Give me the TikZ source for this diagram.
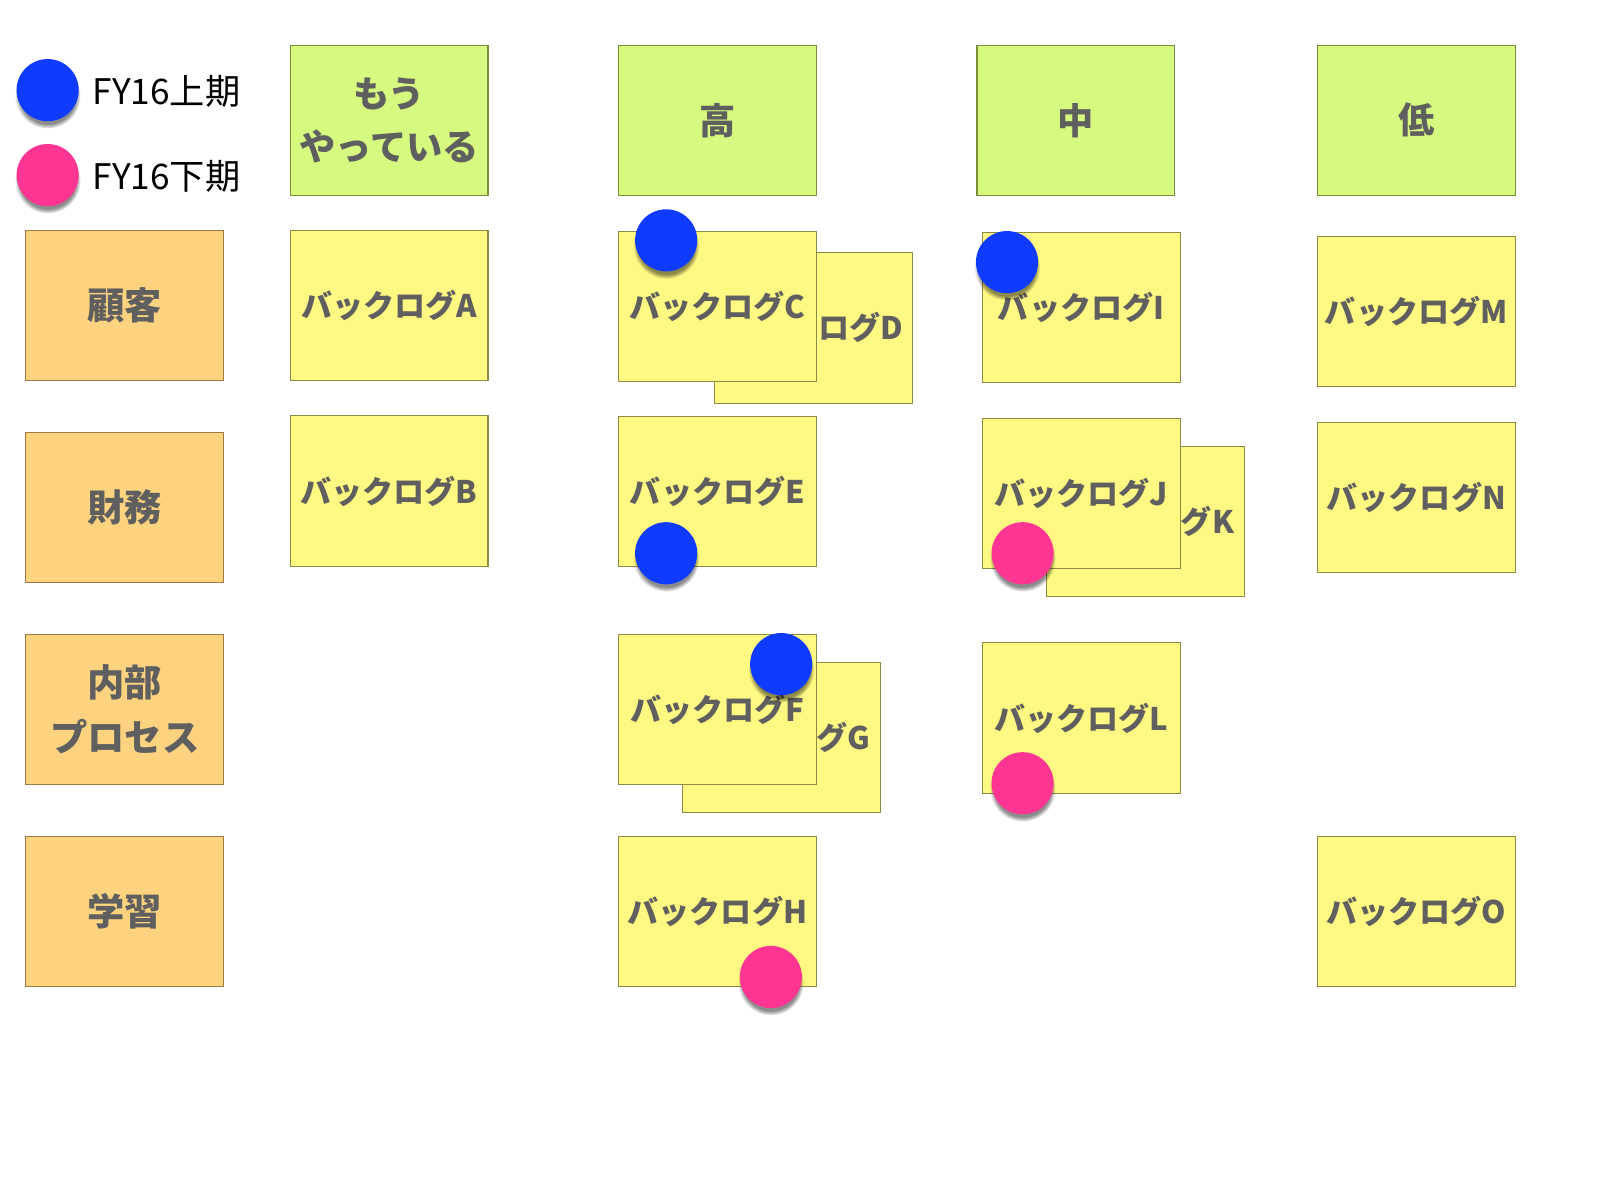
\documentclass[tikz,border=0pt]{standalone}
\usepackage{fontspec}
\setmainfont{Noto Sans CJK JP}
\usepackage{tikz}
\usetikzlibrary{shadows}
\usepackage{xcolor}

\definecolor{headgreen}{HTML}{D6F97F}
\definecolor{headline}{HTML}{7A8F3A}
\definecolor{sideorange}{HTML}{FDD380}
\definecolor{sideline}{HTML}{9A7A45}
\definecolor{cardyellow}{HTML}{FFF882}
\definecolor{cardline}{HTML}{8C8A45}
\definecolor{labelgray}{HTML}{5F5F5F}
\definecolor{firsthalf}{HTML}{0F3BFF}
\definecolor{secondhalf}{HTML}{FF3594}

\begin{document}
\begin{tikzpicture} [x=0.5pt, y=-0.5pt,
	card/.style={rectangle, draw=cardline, line width=0.5pt, fill=cardyellow, minimum width=95.5pt, minimum height=72.5pt, inner sep=0pt, text=labelgray, font=\bfseries\fontsize{15}{18}\selectfont},
	head/.style={card, draw=headline, fill=headgreen, align=center, font=\bfseries\fontsize{17.5}{25.5}\selectfont},
	side/.style={card, draw=sideline, fill=sideorange, align=center, font=\bfseries\fontsize{18}{26.5}\selectfont},
	dot/.style={circle, inner sep=0pt, minimum size=30pt, circular drop shadow={shadow xshift=0pt, shadow yshift=-2.5pt, shadow scale=1.06, fill=black, opacity=0.45}},
	key/.style={anchor=west, inner sep=0pt, font=\fontsize{17}{17}\selectfont}]
										\useasboundingbox (0, 0) rectangle (1567.5, 1141);
										% legend
										\node [dot, fill=firsthalf] (keyfirst) at (46, 87) {};
										\node [key] (keyfirsttxt) at (89, 88) {FY16上期};
										\node [dot, fill=secondhalf] (keysecond) at (46, 169) {};
										\node [key] (keysecondtxt) at (89, 170) {FY16下期};
										% columns
										\node [head] (now) at (375.5, 116) {もう\\やっている};
										\node [head] (high) at (692.5, 116.5) {高};
										\node [head] (mid) at (1038.5, 116.5) {中};
										\node [head] (low) at (1367, 116) {低};
										% rows
										\node [side] (cust) at (120.5, 295) {顧客};
										\node [side] (fin) at (120.5, 490) {財務};
										\node [side] (proc) at (120.5, 685) {内部\\プロセス};
										\node [side] (learn) at (120.5, 880) {学習};
										% backlog
										\node [card] (logA) at (375.5, 295) {バックログA};
										\node [card] (logB) at (375.5, 474) {バックログB};
										\node [card] (logD) at (785.5, 316.5) {バックログD};
										\node [card] (logC) at (692.5, 295.5) {バックログC};
										\node [card] (logE) at (692.5, 474.5) {バックログE};
										\node [card] (logG) at (754, 712) {バックログG};
										\node [card] (logF) at (692.5, 685) {バックログF};
										\node [card] (logH) at (692.5, 880) {バックログH};
										\node [card] (logI) at (1043.5, 296.5) {バックログI};
										\node [card] (logK) at (1105.5, 503.5) {バックログK};
										\node [card] (logJ) at (1043.5, 476) {バックログJ};
										\node [card] (logL) at (1043.5, 693) {バックログL};
										\node [card] (logM) at (1367, 300.5) {バックログM};
										\node [card] (logN) at (1367, 480) {バックログN};
										\node [card] (logO) at (1367, 880) {バックログO};
										% dots
										\node [dot, fill=firsthalf] (dotC) at (643, 232) {};
										\node [dot, fill=firsthalf] (dotI) at (972, 253) {};
										\node [dot, fill=firsthalf] (dotE) at (643, 534) {};
										\node [dot, fill=secondhalf] (dotJ) at (987, 534) {};
										\node [dot, fill=firsthalf] (dotF) at (754, 641) {};
										\node [dot, fill=secondhalf] (dotL) at (987, 756) {};
										\node [dot, fill=secondhalf] (dotH) at (744, 943) {};
									\end{tikzpicture}
\end{document}
